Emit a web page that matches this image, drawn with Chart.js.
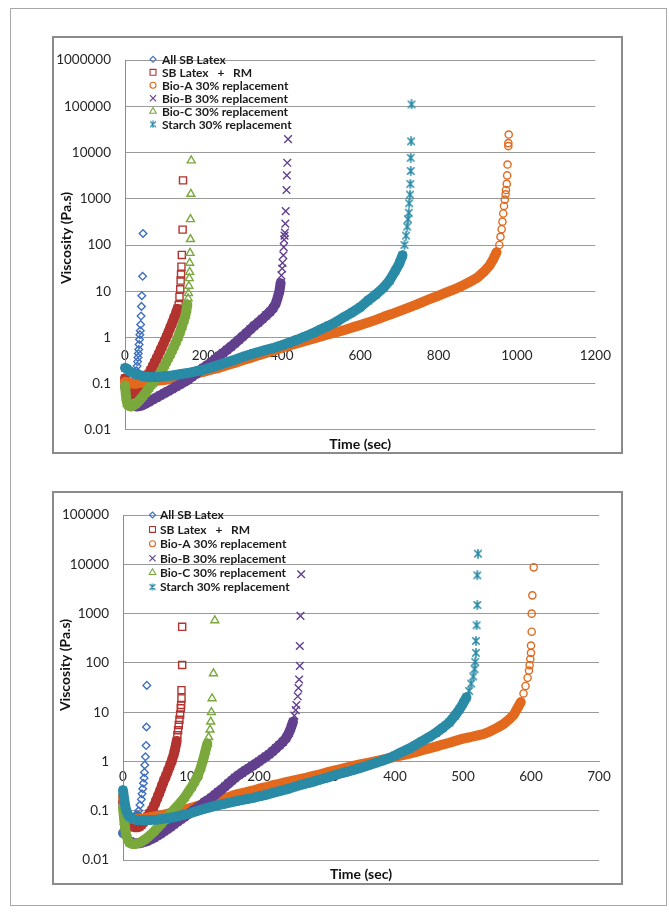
<!DOCTYPE html>
<html>
<head>
<meta charset="utf-8">
<title>Viscosity vs time</title>
<script src="https://cdn.jsdelivr.net/npm/chart.js@4.4.1/dist/chart.umd.min.js"></script>
<style>
  html, body { margin: 0; padding: 0; background: #ffffff; }
  #page { position: relative; width: 669px; height: 914px; overflow: hidden; background: #ffffff; }
  .frame { position: absolute; left: 10px; top: 8px; width: 657px; height: 898px; border: 1px solid #a8a8a8; box-sizing: border-box; }
  .panel { position: absolute; left: 52px; width: 571px; border: 2px solid #8b8b8b; box-sizing: border-box; background: #ffffff; }
  .panel canvas { position: absolute; left: 0; top: 0; }
</style>
</head>
<body>
<div id="page">
  <div class="frame"></div>
  <div class="panel" style="top:36px;height:418px;"><canvas id="chartTop" width="567" height="414"></canvas></div>
  <div class="panel" style="top:491px;height:394px;"><canvas id="chartBottom" width="567" height="390"></canvas></div>
</div>
<script>
// ---- series names (legend order) ----
const seriesNames = [
  'All SB Latex',
  'SB Latex   +   RM',
  'Bio-A 30% replacement',
  'Bio-B 30% replacement',
  'Bio-C 30% replacement',
  'Starch 30% replacement'
];

// ---- upper chart: time (sec) and viscosity (Pa.s) ----
const timeAllSB_A = [0, 3, 6, 9, 12, 15, 18, 21, 23, 25, 27, 29, 31, 32, 33, 34, 35, 36, 37, 38, 39, 40, 41, 42, 43, 45, 46];
const viscAllSB_A = [0.09, 0.07, 0.06, 0.055, 0.055, 0.06, 0.07, 0.085, 0.1, 0.12, 0.15, 0.19, 0.24, 0.3, 0.37, 0.45, 0.55, 0.7, 0.9, 1.15, 1.4, 1.9, 2.9, 4.7, 8, 21, 177];

const timeRM_A = [0, 4, 8, 12, 16, 20, 25, 30, 35, 40, 45, 50, 55, 60, 65, 70, 75, 80, 85, 90, 95, 100, 105, 110, 115, 120, 125, 130, 134, 137, 139, 141, 142, 143, 144, 145, 147, 148];
const viscRM_A = [0.13, 0.1, 0.08, 0.068, 0.062, 0.06, 0.062, 0.068, 0.076, 0.086, 0.1, 0.115, 0.135, 0.16, 0.19, 0.23, 0.28, 0.34, 0.42, 0.52, 0.64, 0.8, 1.0, 1.25, 1.6, 2.0, 2.6, 3.3, 4.2, 5, 7.6, 11, 17, 23, 34, 61, 215, 2500];

const timeBioA_A = [0, 10, 20, 30, 40, 60, 80, 100, 120, 140, 160, 180, 200, 220, 240, 260, 280, 300, 320, 340, 360, 380, 400, 420, 440, 460, 480, 500, 520, 540, 560, 580, 600, 620, 640, 660, 680, 700, 720, 740, 760, 780, 800, 820, 840, 860, 880, 900, 915, 930, 940, 948, 955, 958, 961, 963, 965, 967, 969, 971, 972, 974, 975, 976, 978, 978, 979];
const viscBioA_A = [0.11, 0.105, 0.1, 0.1, 0.105, 0.11, 0.115, 0.12, 0.13, 0.14, 0.15, 0.165, 0.18, 0.2, 0.22, 0.25, 0.28, 0.32, 0.36, 0.41, 0.46, 0.52, 0.6, 0.67, 0.75, 0.84, 0.94, 1.05, 1.17, 1.3, 1.45, 1.65, 1.85, 2.1, 2.4, 2.8, 3.2, 3.7, 4.3, 5.0, 5.9, 6.9, 8.0, 9.4, 11, 13, 16, 20, 26, 36, 50, 70, 100, 150, 220, 320, 480, 700, 960, 1250, 1550, 2100, 3200, 5500, 13800, 16000, 24500];

const timeBioB_A = [22, 30, 40, 50, 60, 70, 80, 90, 100, 110, 120, 130, 140, 150, 160, 170, 180, 190, 200, 210, 220, 230, 240, 250, 260, 270, 280, 290, 300, 310, 320, 330, 340, 350, 360, 370, 378, 385, 390, 394, 397, 399, 401, 402, 404, 405, 406, 407, 408, 409, 410, 412, 413, 414, 416];
const viscBioB_A = [0.034, 0.032, 0.033, 0.036, 0.04, 0.045, 0.05, 0.056, 0.062, 0.069, 0.077, 0.086, 0.096, 0.108, 0.12, 0.14, 0.16, 0.19, 0.22, 0.25, 0.29, 0.34, 0.4, 0.46, 0.54, 0.63, 0.74, 0.88, 1.05, 1.25, 1.5, 1.8, 2.1, 2.5, 3.0, 3.6, 4.3, 5.5, 7.5, 10, 15, 22, 31, 41, 60, 90, 130, 160, 185, 290, 540, 1550, 3200, 6000, 19500];

const timeBioC_A = [0, 3, 6, 10, 15, 20, 25, 30, 35, 40, 45, 50, 55, 60, 65, 70, 75, 80, 85, 90, 95, 100, 105, 110, 115, 120, 125, 130, 135, 140, 145, 150, 154, 157, 159, 161, 162, 163, 164, 165, 165, 166, 167, 167, 168, 169];
const viscBioC_A = [0.09, 0.05, 0.036, 0.033, 0.032, 0.033, 0.035, 0.038, 0.042, 0.047, 0.053, 0.06, 0.068, 0.078, 0.09, 0.1, 0.115, 0.13, 0.15, 0.17, 0.2, 0.24, 0.29, 0.35, 0.42, 0.52, 0.64, 0.8, 1.0, 1.3, 1.7, 2.3, 3.0, 4.0, 5.2, 7, 9, 13, 19, 26, 41, 67, 133, 360, 1270, 6700];

const timeStarch_A = [0, 5, 10, 20, 30, 40, 50, 60, 70, 80, 90, 100, 120, 140, 160, 180, 200, 220, 240, 260, 280, 300, 320, 340, 360, 380, 400, 420, 440, 460, 480, 500, 520, 540, 560, 580, 600, 620, 640, 660, 675, 690, 700, 708, 713, 717, 720, 722, 724, 725, 727, 728, 729, 729, 730, 731];
const viscStarch_A = [0.22, 0.21, 0.19, 0.17, 0.16, 0.15, 0.145, 0.14, 0.14, 0.14, 0.14, 0.145, 0.15, 0.16, 0.17, 0.185, 0.2, 0.225, 0.255, 0.29, 0.33, 0.38, 0.43, 0.48, 0.54, 0.6, 0.68, 0.78, 0.9, 1.05, 1.25, 1.5, 1.8, 2.2, 2.8, 3.5, 4.5, 6.3, 8.5, 12, 17, 28, 40, 60, 100, 160, 250, 360, 500, 800, 1230, 2100, 4000, 7700, 17500, 110000];

// ---- lower chart: time (sec) and viscosity (Pa.s) ----
const timeAllSB_B = [0, 3, 6, 9, 12, 15, 18, 21, 23, 25, 27, 28, 29, 30, 31, 31.5, 32, 33, 34, 34.5, 35];
const viscAllSB_B = [0.035, 0.04, 0.045, 0.05, 0.052, 0.055, 0.065, 0.08, 0.1, 0.13, 0.17, 0.22, 0.28, 0.36, 0.46, 0.6, 0.85, 1.25, 2.1, 5, 35];

const timeRM_B = [0, 3, 6, 9, 12, 15, 18, 21, 24, 27, 30, 33, 36, 39, 42, 45, 48, 51, 54, 57, 60, 63, 66, 69, 72, 75, 77, 79, 80, 81, 82, 83, 84, 85, 85.5, 86, 86, 87, 87];
const viscRM_B = [0.15, 0.1, 0.075, 0.06, 0.052, 0.048, 0.046, 0.046, 0.048, 0.052, 0.058, 0.066, 0.076, 0.088, 0.1, 0.12, 0.15, 0.19, 0.24, 0.31, 0.4, 0.5, 0.64, 0.82, 1.05, 1.45, 1.9, 2.6, 3.4, 4.3, 5.5, 7, 9, 12, 14, 19, 28, 91, 540];

const timeBioA_B = [0, 2, 5, 8, 12, 16, 20, 30, 40, 50, 60, 70, 80, 90, 100, 110, 120, 130, 140, 150, 160, 170, 180, 190, 200, 210, 220, 230, 240, 250, 260, 270, 280, 290, 300, 310, 320, 330, 340, 350, 360, 370, 380, 390, 400, 410, 420, 430, 440, 450, 460, 470, 480, 490, 500, 510, 520, 530, 540, 550, 560, 568, 575, 580, 585, 589, 592, 595, 597, 598, 599, 600, 600, 601, 601, 602, 604];
const viscBioA_B = [0.2, 0.13, 0.09, 0.075, 0.07, 0.068, 0.068, 0.07, 0.074, 0.078, 0.083, 0.09, 0.097, 0.105, 0.115, 0.125, 0.14, 0.15, 0.165, 0.18, 0.2, 0.22, 0.235, 0.255, 0.28, 0.3, 0.33, 0.35, 0.38, 0.41, 0.44, 0.47, 0.51, 0.55, 0.6, 0.65, 0.7, 0.76, 0.82, 0.88, 0.94, 1.0, 1.07, 1.15, 1.24, 1.33, 1.43, 1.55, 1.7, 1.85, 2.0, 2.2, 2.4, 2.65, 2.9, 3.1, 3.35, 3.6, 4.1, 4.8, 5.8, 7.2, 9, 12, 16, 24, 34, 50, 70, 90, 120, 160, 225, 430, 1000, 2350, 8700];

const timeBioB_B = [10, 15, 20, 25, 30, 35, 40, 45, 50, 55, 60, 65, 70, 75, 80, 85, 90, 95, 100, 105, 110, 115, 120, 125, 130, 135, 140, 145, 150, 155, 160, 165, 170, 175, 180, 185, 190, 195, 200, 205, 210, 215, 220, 225, 230, 235, 240, 244, 247, 250, 252, 254, 255, 257, 258, 259, 260, 260, 261, 262];
const viscBioB_B = [0.024, 0.022, 0.022, 0.022, 0.023, 0.024, 0.026, 0.028, 0.031, 0.034, 0.038, 0.042, 0.047, 0.053, 0.06, 0.067, 0.075, 0.084, 0.094, 0.105, 0.118, 0.13, 0.15, 0.165, 0.185, 0.21, 0.24, 0.27, 0.31, 0.36, 0.41, 0.47, 0.53, 0.59, 0.66, 0.73, 0.81, 0.9, 1.0, 1.12, 1.25, 1.4, 1.6, 1.85, 2.15, 2.5, 3.0, 3.8, 4.8, 6.4, 8.5, 11, 14, 21, 31, 46, 87, 220, 900, 6300];

const timeBioC_B = [0, 2, 4, 7, 10, 14, 18, 22, 26, 30, 35, 40, 45, 50, 55, 60, 65, 70, 75, 80, 85, 90, 95, 100, 105, 110, 114, 118, 121, 124, 126, 128, 129, 130, 131, 133, 135];
const viscBioC_B = [0.12, 0.06, 0.035, 0.026, 0.022, 0.021, 0.021, 0.022, 0.023, 0.025, 0.028, 0.032, 0.037, 0.044, 0.052, 0.062, 0.074, 0.088, 0.105, 0.125, 0.15, 0.18, 0.23, 0.29, 0.38, 0.52, 0.72, 1.1, 1.6, 2.3, 3.1, 4.4, 6.4, 10, 19, 61, 730];

const timeStarch_B = [0, 2, 4, 7, 10, 15, 20, 25, 30, 40, 50, 60, 70, 80, 90, 100, 110, 120, 130, 140, 150, 160, 170, 180, 190, 200, 210, 220, 230, 240, 250, 260, 270, 280, 290, 300, 310, 320, 330, 340, 350, 360, 370, 380, 390, 400, 410, 420, 430, 440, 450, 460, 470, 480, 488, 495, 500, 505, 509, 512, 515, 517, 518, 519, 519, 520, 521, 521, 522];
const viscStarch_B = [0.26, 0.16, 0.11, 0.085, 0.075, 0.068, 0.065, 0.064, 0.064, 0.065, 0.066, 0.069, 0.072, 0.077, 0.083, 0.09, 0.1, 0.11, 0.12, 0.13, 0.14, 0.15, 0.16, 0.17, 0.18, 0.195, 0.21, 0.23, 0.25, 0.27, 0.3, 0.33, 0.36, 0.39, 0.43, 0.47, 0.52, 0.57, 0.62, 0.68, 0.75, 0.83, 0.92, 1.02, 1.15, 1.32, 1.55, 1.8, 2.15, 2.6, 3.1, 3.8, 4.8, 6.2, 8.5, 11.5, 15, 20, 27, 38, 53, 75, 105, 160, 280, 580, 1500, 6000, 16500];

// viscosity below which each series' readings are packed into a solid trace
const denseLimit_A = [0.1, 4.5, 75, 16, 5.5, 65];
const denseLimit_B = [0.09, 2.7, 17, 7, 2.4, 21];

// ---- axis ticks ----
const yTicks_A = [0.01, 0.1, 1, 10, 100, 1000, 10000, 100000, 1000000];
const yTickLabels_A = ['0.01', '0.1', '1', '10', '100', '1000', '10000', '100000', '1000000'];
const xTicks_A = [0, 200, 400, 600, 800, 1000, 1200];
const xTickLabels_A = ['0', '200', '400', '600', '800', '1000', '1200'];

const yTicks_B = [0.01, 0.1, 1, 10, 100, 1000, 10000, 100000];
const yTickLabels_B = ['0.01', '0.1', '1', '10', '100', '1000', '10000', '100000'];
const xTicks_B = [0, 100, 200, 300, 400, 500, 600, 700];
const xTickLabels_B = ['0', '100', '200', '300', '400', '500', '600', '700'];

const xTitle = 'Time (sec)';
const yTitle = 'Viscosity (Pa.s)';

// ---- styling ----
const seriesColors = ['#3f6fbf', '#b2332f', '#e2691d', '#62408e', '#7aa83c', '#2a8ba6'];
const gridColor = '#9a9a9a';
const tickColor = '#262626';
const FONT = 'Lato, "Open Sans", "DejaVu Sans", sans-serif';

// Excel-like "star" marker: an X with a vertical bar
function starMarker(color, size, width) {
  const c = document.createElement('canvas');
  c.width = size; c.height = size;
  const g = c.getContext('2d');
  const m = size / 2, r = size / 2 - 0.8, d = r * 0.78;
  g.strokeStyle = color; g.lineWidth = width; g.lineCap = 'round';
  g.beginPath();
  g.moveTo(m - d, m - d); g.lineTo(m + d, m + d);
  g.moveTo(m + d, m - d); g.lineTo(m - d, m + d);
  g.moveTo(m, m - r); g.lineTo(m, m + r);
  g.stroke();
  return c;
}

const plotMarkers = ['rectRot', 'rect', 'circle', 'crossRot', 'triangle', starMarker(seriesColors[5], 10, 1.6)];
const plotRadius = [3.8, 5, 3.6, 5.4, 4.6, 4];
const legendMarkers = ['rectRot', 'rect', 'circle', 'crossRot', 'triangle', starMarker(seriesColors[5], 8, 1.2)];
const legendRadius = [3, 4.2, 3, 4.4, 3.8, 3];

// legend drawn inside the plot area, top-left
const insetLegend = {
  id: 'insetLegend',
  afterDraw(chart, args, opts) {
    const ctx = chart.ctx;
    ctx.save();
    ctx.font = opts.font;
    ctx.textBaseline = 'middle';
    ctx.textAlign = 'left';
    seriesNames.forEach((name, i) => {
      const y = opts.y + i * opts.step;
      ctx.strokeStyle = seriesColors[i];
      ctx.fillStyle = 'rgba(0,0,0,0)';
      ctx.lineWidth = 1.1;
      Chart.helpers.drawPoint(ctx, { pointStyle: legendMarkers[i], radius: legendRadius[i], rotation: 0, borderWidth: 1.1 }, opts.x, y);
      ctx.fillStyle = '#1b1b1b';
      ctx.fillText(name, opts.textX, y + 0.5);
    });
    ctx.restore();
  }
};

// axis titles
const axisCaptions = {
  id: 'axisCaptions',
  afterDraw(chart, args, opts) {
    const ctx = chart.ctx;
    ctx.save();
    ctx.font = opts.font;
    ctx.fillStyle = '#111111';
    ctx.textAlign = 'center';
    ctx.textBaseline = 'middle';
    ctx.fillText(xTitle, (chart.chartArea.left + chart.chartArea.right) / 2, opts.xTitleY);
    ctx.translate(opts.yTitleX, opts.yTitleY);
    ctx.rotate(-Math.PI / 2);
    ctx.fillText(yTitle, 0, 0);
    ctx.restore();
  }
};

function buildChart(canvasId, setup) {
  const datasets = setup.series.map((s, i) => {
    const color = seriesColors[i];
    const limit = setup.denseLimit[i];
    return {
      label: seriesNames[i],
      data: s.t.map((x, k) => ({ x: x, y: s.v[k] })),
      showLine: true,
      borderColor: color,
      borderWidth: 10,
      borderCapStyle: 'round',
      borderJoinStyle: 'round',
      segment: {
        borderColor: c => (s.v[c.p1DataIndex] <= limit ? color : 'rgba(0,0,0,0)')
      },
      pointStyle: plotMarkers[i],
      pointRadius: plotRadius[i],
      pointBorderWidth: 1.4,
      pointBorderColor: color,
      pointBackgroundColor: 'rgba(0,0,0,0)',
      clip: false,
      order: setup.series.length - i
    };
  });

  return new Chart(document.getElementById(canvasId), {
    type: 'scatter',
    data: { datasets },
    options: {
      responsive: false,
      animation: false,
      devicePixelRatio: 1,
      events: [],
      layout: { padding: setup.padding },
      plugins: {
        legend: { display: false },
        tooltip: { enabled: false },
        insetLegend: setup.legend,
        axisCaptions: setup.captions
      },
      scales: {
        x: {
          type: 'linear',
          min: setup.xTicks[0],
          max: setup.xTicks[setup.xTicks.length - 1],
          position: { y: 1 },
          grid: { display: false, drawTicks: false },
          border: { display: true, color: gridColor, width: 1 },
          afterBuildTicks: axis => { axis.ticks = setup.xTicks.map(v => ({ value: v })); },
          ticks: {
            padding: setup.xTickPad,
            color: tickColor,
            font: { family: FONT, size: 13.5 },
            maxRotation: 0,
            autoSkip: false,
            callback: (v, i) => setup.xTickLabels[i]
          }
        },
        y: {
          type: 'logarithmic',
          min: setup.yTicks[0],
          max: setup.yTicks[setup.yTicks.length - 1],
          grid: { color: gridColor, lineWidth: 1, drawTicks: false },
          border: { display: true, color: '#8c8c8c', width: 1 },
          afterBuildTicks: axis => { axis.ticks = setup.yTicks.map(v => ({ value: v })); },
          afterFit: axis => { axis.width = setup.yAxisWidth; },
          ticks: {
            padding: 14,
            color: tickColor,
            font: { family: FONT, size: 13.5 },
            autoSkip: false,
            callback: (v, i) => setup.yTickLabels[i]
          }
        }
      }
    },
    plugins: [insetLegend, axisCaptions]
  });
}

buildChart('chartTop', {
  series: [
    { t: timeAllSB_A, v: viscAllSB_A },
    { t: timeRM_A, v: viscRM_A },
    { t: timeBioA_A, v: viscBioA_A },
    { t: timeBioB_A, v: viscBioB_A },
    { t: timeBioC_A, v: viscBioC_A },
    { t: timeStarch_A, v: viscStarch_A }
  ],
  denseLimit: denseLimit_A,
  xTicks: xTicks_A, xTickLabels: xTickLabels_A,
  yTicks: yTicks_A, yTickLabels: yTickLabels_A,
  yAxisWidth: 71,
  xTickPad: 10,
  padding: { top: 11, right: 24, bottom: 22, left: 0 },
  legend: { x: 99, textX: 108, y: 21.3, step: 13, font: 'bold 12px ' + FONT },
  captions: { font: 'bold 14px ' + FONT, xTitleY: 406, yTitleX: 12, yTitleY: 200 }
});

buildChart('chartBottom', {
  series: [
    { t: timeAllSB_B, v: viscAllSB_B },
    { t: timeRM_B, v: viscRM_B },
    { t: timeBioA_B, v: viscBioA_B },
    { t: timeBioB_B, v: viscBioB_B },
    { t: timeBioC_B, v: viscBioC_B },
    { t: timeStarch_B, v: viscStarch_B }
  ],
  denseLimit: denseLimit_B,
  xTicks: xTicks_B, xTickLabels: xTickLabels_B,
  yTicks: yTicks_B, yTickLabels: yTickLabels_B,
  yAxisWidth: 69,
  xTickPad: 7,
  padding: { top: 10, right: 22, bottom: 23, left: 0 },
  legend: { x: 98.5, textX: 106, y: 22, step: 14.4, font: 'bold 12px ' + FONT },
  captions: { font: 'bold 14px ' + FONT, xTitleY: 381, yTitleX: 11, yTitleY: 172 }
});
</script>
</body>
</html>
